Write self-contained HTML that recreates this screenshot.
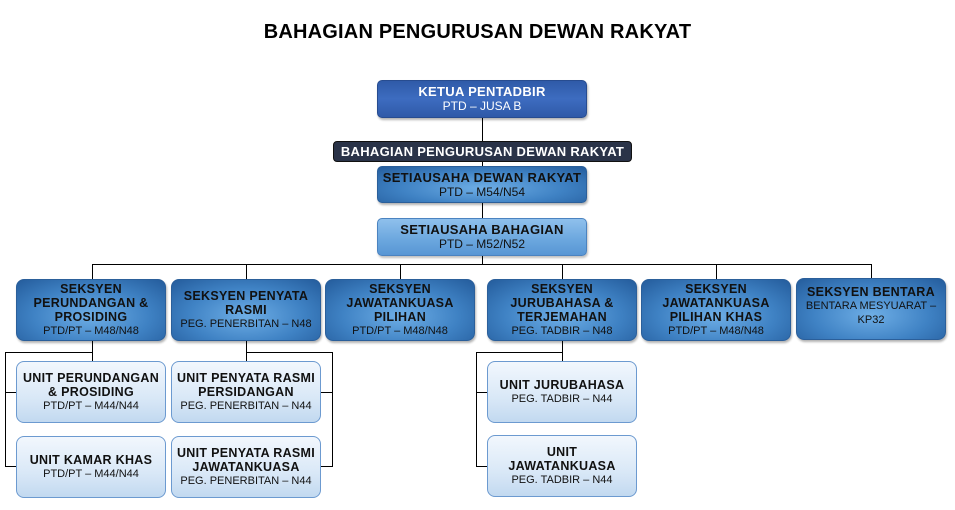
<!DOCTYPE html>
<html><head><meta charset="utf-8"><style>
body{margin:0;width:955px;height:510px;background:#fff;position:relative;overflow:hidden;font-family:"Liberation Sans",Arial,sans-serif;}
.b{position:absolute;box-sizing:border-box;border-radius:8px;display:flex;flex-direction:column;justify-content:center;align-items:center;text-align:center;color:#111;line-height:14px;}
.t{font-weight:bold;font-size:12.5px;letter-spacing:0.3px}
.s{font-size:11px;}
.sek{background:radial-gradient(ellipse at 50% 60%,#6eaee6 0%,#3f82c4 55%,#245c9c 100%);border:1px solid #2b5f9a;box-shadow:1px 2px 2px rgba(0,0,0,.3);}
.unit{background:linear-gradient(#f2f7fd,#d9e8f7 60%,#c2d9f0);border:1px solid #6c9ad0;}
.l{position:absolute;background:#000;}
</style></head><body>
<div style="position:absolute;left:0;width:955px;top:21px;text-align:center;font-weight:bold;font-size:20px;letter-spacing:0.2px">BAHAGIAN PENGURUSAN DEWAN RAKYAT</div>

<!-- lines -->
<div class="l" style="left:482px;top:118px;width:1px;height:146px"></div>
<div class="l" style="left:92px;top:264px;width:780px;height:1px"></div>
<div class="l" style="left:92px;top:264px;width:1px;height:15px"></div>
<div class="l" style="left:246px;top:264px;width:1px;height:15px"></div>
<div class="l" style="left:400px;top:264px;width:1px;height:15px"></div>
<div class="l" style="left:562px;top:264px;width:1px;height:15px"></div>
<div class="l" style="left:716px;top:264px;width:1px;height:15px"></div>
<div class="l" style="left:871px;top:264px;width:1px;height:15px"></div>

<div class="l" style="left:92px;top:340px;width:1px;height:21px"></div>
<div class="l" style="left:5px;top:352px;width:88px;height:1px"></div>
<div class="l" style="left:5px;top:352px;width:1px;height:115px"></div>
<div class="l" style="left:5px;top:392px;width:11px;height:1px"></div>
<div class="l" style="left:5px;top:466px;width:11px;height:1px"></div>

<div class="l" style="left:246px;top:340px;width:1px;height:21px"></div>
<div class="l" style="left:246px;top:352px;width:87px;height:1px"></div>
<div class="l" style="left:332px;top:352px;width:1px;height:115px"></div>
<div class="l" style="left:321px;top:392px;width:11px;height:1px"></div>
<div class="l" style="left:321px;top:466px;width:11px;height:1px"></div>

<div class="l" style="left:562px;top:340px;width:1px;height:21px"></div>
<div class="l" style="left:476px;top:352px;width:87px;height:1px"></div>
<div class="l" style="left:476px;top:352px;width:1px;height:115px"></div>
<div class="l" style="left:476px;top:392px;width:11px;height:1px"></div>
<div class="l" style="left:476px;top:466px;width:11px;height:1px"></div>

<!-- top -->
<div class="b" style="left:377px;top:80px;width:210px;height:38px;background:linear-gradient(#2f5aa8,#3d6cc0 50%,#2f5aa8);border:1px solid #274c90;color:#fff;border-radius:5px;box-shadow:1px 2px 2px rgba(0,0,0,.3)"><div class="t" style="font-size:13px">KETUA PENTADBIR</div><div class="s" style="font-size:12px">PTD – JUSA B</div></div>
<div class="b" style="left:333px;top:141px;width:299px;height:21px;background:#2a3348;border:1px solid #111;color:#fff;border-radius:4px"><div class="t" style="font-size:13px">BAHAGIAN PENGURUSAN DEWAN RAKYAT</div></div>
<div class="b sek" style="left:377px;top:166px;width:210px;height:37px;border-radius:5px"><div class="t" style="font-size:13px">SETIAUSAHA DEWAN RAKYAT</div><div class="s" style="font-size:12px">PTD – M54/N54</div></div>
<div class="b" style="left:377px;top:218px;width:210px;height:38px;border-radius:5px;background:linear-gradient(#8fc0ec,#6aa6de 60%,#5896d4);border:1px solid #4b83c0;box-shadow:1px 2px 2px rgba(0,0,0,.25)"><div class="t" style="font-size:13px">SETIAUSAHA BAHAGIAN</div><div class="s" style="font-size:12px">PTD – M52/N52</div></div>

<!-- seksyen -->
<div class="b sek" style="left:16px;top:279px;width:150px;height:62px"><div class="t">SEKSYEN<br>PERUNDANGAN &amp;<br>PROSIDING</div><div class="s">PTD/PT – M48/N48</div></div>
<div class="b sek" style="left:171px;top:279px;width:150px;height:62px"><div class="t">SEKSYEN PENYATA<br>RASMI</div><div class="s">PEG. PENERBITAN – N48</div></div>
<div class="b sek" style="left:325px;top:279px;width:150px;height:62px"><div class="t">SEKSYEN<br>JAWATANKUASA<br>PILIHAN</div><div class="s">PTD/PT – M48/N48</div></div>
<div class="b sek" style="left:487px;top:279px;width:150px;height:62px"><div class="t">SEKSYEN<br>JURUBAHASA &amp;<br>TERJEMAHAN</div><div class="s">PEG. TADBIR – N48</div></div>
<div class="b sek" style="left:641px;top:279px;width:150px;height:62px"><div class="t">SEKSYEN<br>JAWATANKUASA<br>PILIHAN KHAS</div><div class="s">PTD/PT – M48/N48</div></div>
<div class="b sek" style="left:796px;top:278px;width:150px;height:62px;padding-bottom:6px"><div class="t">SEKSYEN BENTARA</div><div class="s">BENTARA MESYUARAT –<br>KP32</div></div>

<!-- units -->
<div class="b unit" style="left:16px;top:361px;width:150px;height:62px"><div class="t">UNIT PERUNDANGAN<br>&amp; PROSIDING</div><div class="s">PTD/PT – M44/N44</div></div>
<div class="b unit" style="left:16px;top:436px;width:150px;height:62px"><div class="t">UNIT KAMAR KHAS</div><div class="s">PTD/PT – M44/N44</div></div>
<div class="b unit" style="left:171px;top:361px;width:150px;height:62px"><div class="t">UNIT PENYATA RASMI<br>PERSIDANGAN</div><div class="s">PEG. PENERBITAN – N44</div></div>
<div class="b unit" style="left:171px;top:436px;width:150px;height:62px"><div class="t">UNIT PENYATA RASMI<br>JAWATANKUASA</div><div class="s">PEG. PENERBITAN – N44</div></div>
<div class="b unit" style="left:487px;top:361px;width:150px;height:62px"><div class="t">UNIT JURUBAHASA</div><div class="s">PEG. TADBIR – N44</div></div>
<div class="b unit" style="left:487px;top:435px;width:150px;height:62px"><div class="t">UNIT<br>JAWATANKUASA</div><div class="s">PEG. TADBIR – N44</div></div>
</body></html>
